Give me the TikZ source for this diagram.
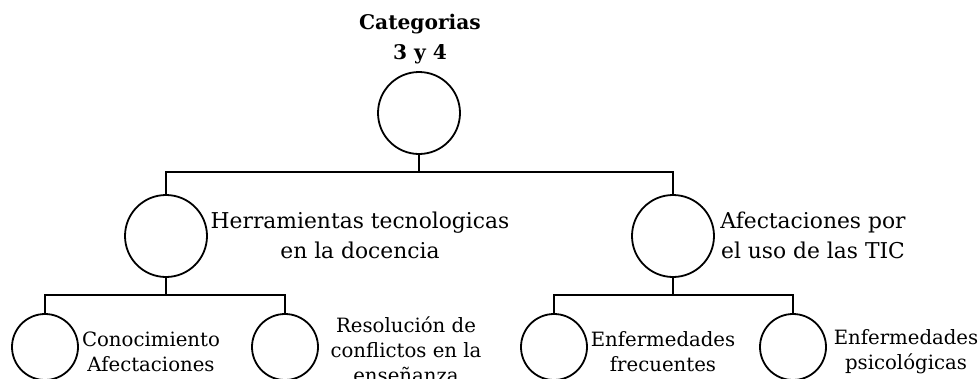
\documentclass[tikz,border=0pt]{standalone}
\usepackage{fontspec}
\setmainfont{DejaVu Serif}
\begin{document}
\begin{tikzpicture}[x=1pt,y=-1pt,
  bigcirc/.style={circle,draw,line width=1.8pt,minimum size=82pt,inner sep=0pt},
  smallcirc/.style={circle,draw,line width=1.8pt,minimum size=66pt,inner sep=0pt},
  conn/.style={line width=1.1pt},
  midtext/.style={align=center,inner sep=0pt,font=\fontsize{21.8}{30}\selectfont},
  lowtext/.style={align=center,inner sep=0pt,font=\fontsize{19.7}{25}\selectfont},
  toptext/.style={align=center,inner sep=0pt,font=\bfseries\fontsize{20.2}{30}\selectfont}]
\useasboundingbox (0,0) rectangle (979,378);
\clip (0,0) rectangle (979,378);
% nodes
\node[bigcirc] (c0) at (419,113) {};
\node[toptext] (t0) at (420,39) {Categorias\\3 y 4};
\node[bigcirc] (c1) at (166,236) {};
\node[bigcirc] (c2) at (673,236) {};
\node[midtext] (t1) at (360,235) {Herramientas tecnologicas\\en la docencia};
\node[midtext] (t2) at (813,235) {Afectaciones por\\el uso de las TIC};
\node[smallcirc] (c11) at (45,347) {};
\node[smallcirc] (c12) at (285,347) {};
\node[smallcirc] (c21) at (554,347) {};
\node[smallcirc] (c22) at (793,347) {};
\node[lowtext] (t11) at (151,352) {Conocimiento\\Afectaciones};
\node[lowtext] (t12) at (406,350) {Resolución de\\conflictos en la\\enseñanza};
\node[lowtext] (t21) at (663,352) {Enfermedades\\frecuentes};
\node[lowtext] (t22) at (906,352) {Enfermedades\\psicológicas};
% connectors
\coordinate (b0) at (419,172);
\coordinate (b1) at (166,295);
\coordinate (b2) at (673,295);
\draw[conn] (c0.south) -- (b0);
\draw[conn] (c1.north) |- (b0) -| (c2.north);
\draw[conn] (c1.south) -- (b1);
\draw[conn] (c11.north) |- (b1) -| (c12.north);
\draw[conn] (c2.south) -- (b2);
\draw[conn] (c21.north) |- (b2) -| (c22.north);
\end{tikzpicture}
\end{document}
